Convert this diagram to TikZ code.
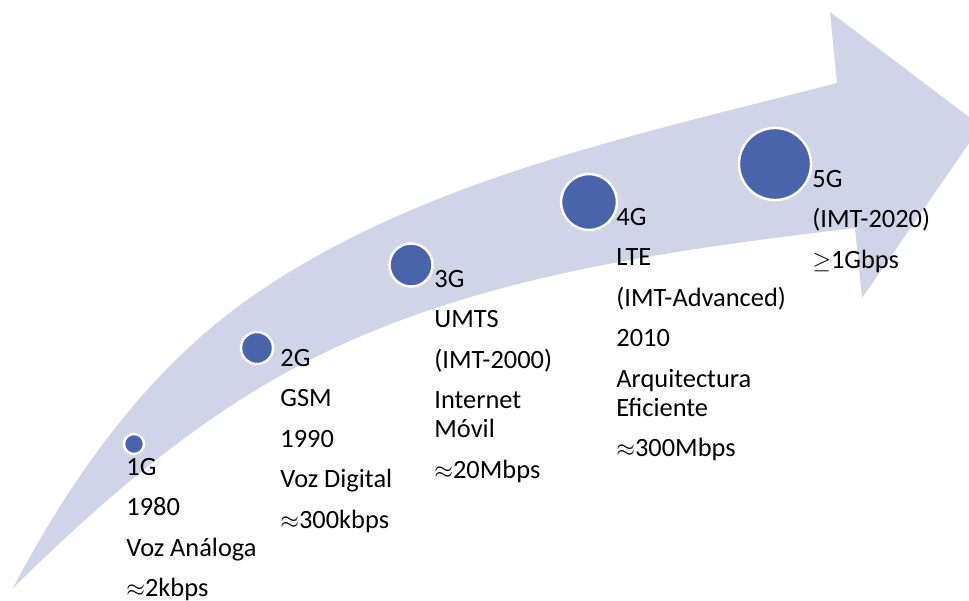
\documentclass[tikz,border=0pt]{standalone}
\usepackage{fontspec}
\setmainfont{Carlito}
\definecolor{bandcol}{RGB}{207,212,230}
\definecolor{dotcol}{RGB}{72,101,172}
\newcommand{\nlgap}{\\[5.75pt]}
\begin{document}
\begin{tikzpicture}[x=0.5pt,y=-0.5pt,
  dotnode/.style={circle,fill=dotcol,draw=white,line width=1.25pt,inner sep=0pt},
  lbl/.style={anchor=base west,inner sep=0pt,font=\fontsize{13.2}{14.5}\selectfont}]
\useasboundingbox (0,0) rectangle (969,600);
\begin{scope}
\clip (0,0) rectangle (969,600);
\fill[bandcol] (13,588) .. controls (73,474) and (151,365) .. (257,293)
  .. controls (426.5,177.7) and (638.6,134.6) .. (837,83)
  -- (830,12) -- (981,126) -- (862,298) -- (855,228)
  .. controls (661.4,251.2) and (457.9,278) .. (287,372)
  .. controls (185.3,427.9) and (95.6,506.6) .. (13,588) -- cycle;
\end{scope}
\node[dotnode,minimum size=10.05pt] (c1) at (134,444) {};
\node[dotnode,minimum size=16.05pt] (c2) at (257,348) {};
\node[dotnode,minimum size=21.55pt] (c3) at (411,265) {};
\node[dotnode,minimum size=27.95pt] (c4) at (589,202) {};
\node[dotnode,minimum size=36.05pt] (c5) at (775,164) {};
\node[lbl] (g1) at (126,475) {\begin{tabular}[t]{@{}l@{}}1G\nlgap 1980\nlgap Voz Análoga\nlgap $\approx$2kbps\end{tabular}};
\node[lbl] (g2) at (280,366) {\begin{tabular}[t]{@{}l@{}}2G\nlgap GSM\nlgap 1990\nlgap Voz Digital\nlgap $\approx$300kbps\end{tabular}};
\node[lbl] (g3) at (434,287) {\begin{tabular}[t]{@{}l@{}}3G\nlgap UMTS\nlgap (IMT-2000)\nlgap Internet\\Móvil\nlgap $\approx$20Mbps\end{tabular}};
\node[lbl] (g4) at (616,225) {\begin{tabular}[t]{@{}l@{}}4G\nlgap LTE\nlgap (IMT-Advanced)\nlgap 2010\nlgap Arquitectura\\Eficiente\nlgap $\approx$300Mbps\end{tabular}};
\node[lbl] (g5) at (812,187) {\begin{tabular}[t]{@{}l@{}}5G\nlgap (IMT-2020)\nlgap $\geq$1Gbps\end{tabular}};
\end{tikzpicture}
\end{document}
